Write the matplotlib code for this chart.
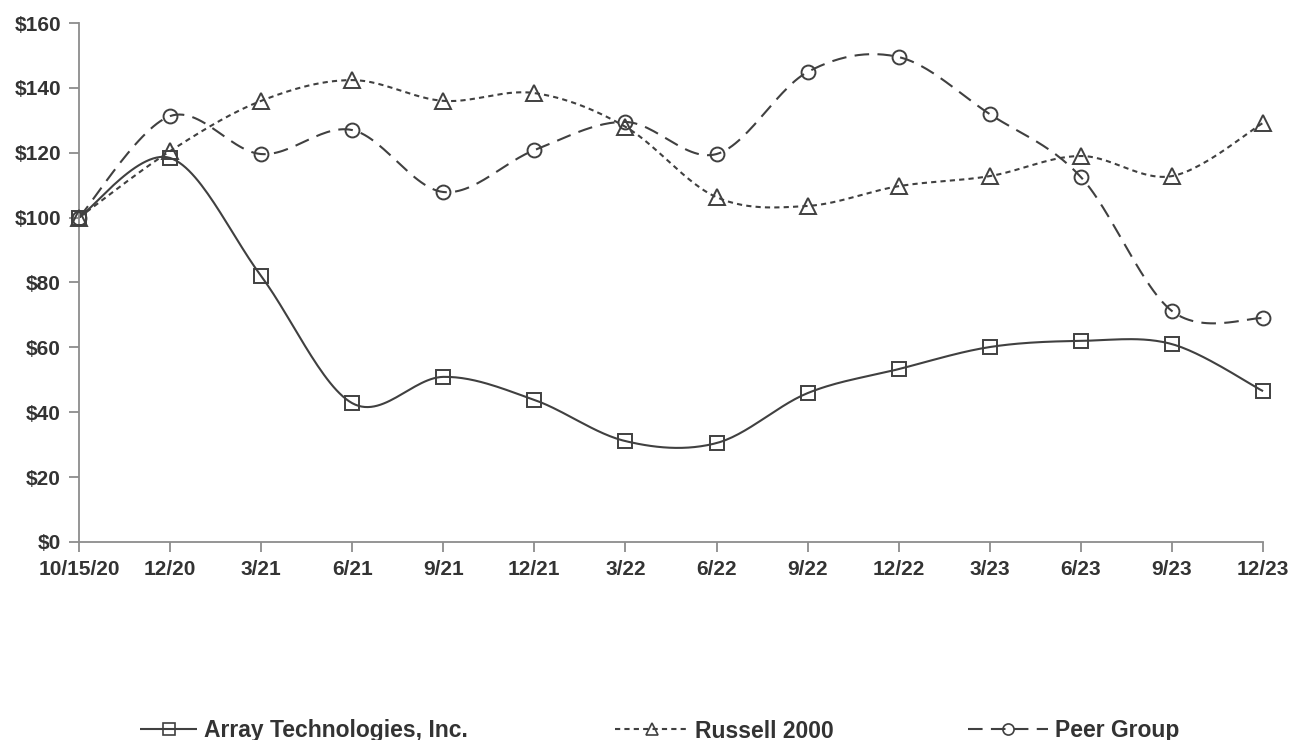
import numpy as np
import matplotlib
matplotlib.use('Agg')
import matplotlib.pyplot as plt
from matplotlib.lines import Line2D

# data
periods = ['10/15/20', '12/20', '3/21', '6/21', '9/21', '12/21', '3/22',
           '6/22', '9/22', '12/22', '3/23', '6/23', '9/23', '12/23']
array_tech = [100, 118.4, 82, 42.8, 50.9, 43.8, 31.1, 30.5, 45.9, 53.3, 60.1, 62, 61, 46.5]
russell_2000 = [100, 120.5, 136, 142.4, 136, 138.4, 128, 106.3, 103.6, 109.7, 112.8, 119, 112.8, 129.2]
peer_group = [100, 131.3, 119.6, 127, 107.9, 120.8, 129.5, 119.6, 144.9, 149.5, 131.9, 112.5, 71.2, 69]

LINE = '#404040'
TEXT = '#333333'
AXIS = '#8c8c8c'


def smooth(y, n=30):
    # excel style smoothed line (catmull-rom bezier between points)
    x = np.arange(len(y), dtype=float)
    p = np.column_stack([x, np.asarray(y, float)])
    p = np.vstack([p[0], p, p[-1]])
    out = []
    t = np.linspace(0, 1, n)[:, None]
    for i in range(1, len(p) - 2):
        p0, p1, p2, p3 = p[i - 1], p[i], p[i + 1], p[i + 2]
        c1 = p1 + (p2 - p0) / 6
        c2 = p2 - (p3 - p1) / 6
        seg = ((1 - t) ** 3) * p1 + 3 * ((1 - t) ** 2) * t * c1 + 3 * (1 - t) * t ** 2 * c2 + t ** 3 * p2
        out.append(seg if i == 1 else seg[1:])
    out = np.vstack(out)
    return out[:, 0], out[:, 1]


plt.rcParams['font.family'] = ['Liberation Sans', 'DejaVu Sans']
plt.rcParams['font.weight'] = 'bold'

fig = plt.figure(figsize=(12.92, 7.4), dpi=100)
ax = fig.add_axes([0.0611, 0.2676, 0.9776 - 0.0611, 0.9689 - 0.2676])

# (values, marker, linestyle, label, marker size, legend x, legend handle length)
styles = [
    (array_tech, 's', (0, ()), 'Array Technologies, Inc.', 10.5, 140, 2.5),
    (russell_2000, '^', (0, (2.5, 2)), 'Russell 2000', 11, 615, 3.2),
    (peer_group, 'o', (0, (7, 4)), 'Peer Group', 10, 968, 3.5),
]
x = np.arange(len(periods))
for vals, mk, ls, name, ms, lx, hl in styles:
    sx, sy = smooth(vals)
    ax.plot(sx, sy, color=LINE, lw=1.5, linestyle=ls, zorder=2, clip_on=False)
    ax.plot(x, vals, linestyle='none', marker=mk, ms=ms, mfc='none', mec=LINE, mew=1.4,
            zorder=3, clip_on=False)
    h = Line2D([], [], color=LINE, lw=1.5, linestyle=ls, marker=mk, ms=ms * 0.8,
               mfc='none', mec=LINE, mew=1.2, label=name)
    fig.legend(handles=[h], loc='center left', bbox_to_anchor=(lx / 1292, 1 - 731 / 740),
               frameon=False, fontsize=16.5, handlelength=hl, handletextpad=0.3,
               borderpad=0, borderaxespad=0, labelcolor=TEXT)

ax.set_xlim(0, len(periods) - 1)
ax.set_ylim(0, 160)
ax.set_yticks(np.arange(0, 161, 20))
ax.set_yticklabels(['$%d' % v for v in range(0, 161, 20)])
ax.set_xticks(x)
ax.set_xticklabels(periods)

for s in ['top', 'right']:
    ax.spines[s].set_visible(False)
for s in ['left', 'bottom']:
    ax.spines[s].set_color(AXIS)
    ax.spines[s].set_linewidth(1.3)
ax.tick_params(axis='both', colors=AXIS, length=7, width=1.3, labelsize=15,
               labelcolor=TEXT)
ax.tick_params(axis='y', pad=6)
ax.tick_params(axis='x', pad=6)

fig.savefig('out.png', dpi=100, facecolor='white')
